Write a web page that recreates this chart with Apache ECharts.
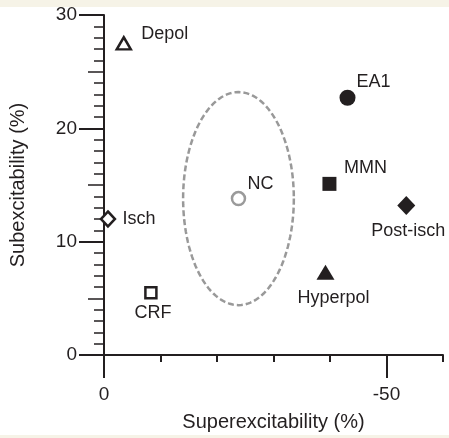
<!DOCTYPE html>
<html>
<head>
<meta charset="utf-8">
<script src="https://cdn.jsdelivr.net/npm/echarts@6/dist/echarts.min.js"></script>
<style>
  html, body { margin: 0; padding: 0; background: #fff; }
  #chart { width: 449px; height: 438px; }
</style>
</head>
<body>
<div id="chart"></div>
<script>
// conditions and their (superexcitability, subexcitability) in %
const names = ["Depol", "EA1", "MMN", "Post-isch", "Hyperpol", "NC", "Isch", "CRF"];
const superexcitability = [-3.5, -43.1, -39.9, -53.5, -39.2, -23.8, -0.7, -8.3];
const subexcitability = [27.5, 22.7, 15.1, 13.2, 7.3, 13.8, 12.0, 5.5];
// normal range round NC: centre x, centre y, half width, half height
const ncRange = [-23.8, 13.8, 9.8, 9.4];
const xLabelValues = [0, -50];

const ink = "#231f20";
const font = "Liberation Sans, Arial, sans-serif";

// marker look + label offset from marker centre
const markerStyle = {
  "Depol":     { symbol: "triangle", size: [14, 12], fill: "#fff", stroke: ink, bw: 2.5, label: [41, -9] },
  "EA1":       { symbol: "circle",   size: 16, fill: ink, stroke: ink, bw: 0, label: [26, -16] },
  "MMN":       { symbol: "rect",     size: 14, fill: ink, stroke: ink, bw: 0, label: [36, -16] },
  "Post-isch": { symbol: "diamond",  size: [18, 19], fill: ink, stroke: ink, bw: 0, label: [2, 26] },
  "Hyperpol":  { symbol: "triangle", size: [18, 15], fill: ink, stroke: ink, bw: 0, label: [8, 26] },
  "NC":        { symbol: "circle",   size: 13, fill: "#fff", stroke: "#9a9a9a", bw: 2.5, label: [22, -15] },
  "Isch":      { symbol: "diamond",  size: [14, 15], fill: "#fff", stroke: ink, bw: 2.5, label: [31, 0] },
  "CRF":       { symbol: "rect",     size: 11, fill: "#fff", stroke: ink, bw: 2.5, label: [2, 20] },
};

const points = names.map((name, i) => {
  const s = markerStyle[name];
  return {
    name,
    value: [superexcitability[i], subexcitability[i]],
    symbol: s.symbol,
    symbolSize: s.size,
    itemStyle: { color: s.fill, borderColor: s.stroke, borderWidth: s.bw, opacity: 1 },
    label: {
      show: true,
      position: "inside",
      offset: s.label,
      formatter: name,
      color: ink,
      fontSize: 18,
      fontFamily: font,
    },
  };
});

const chart = echarts.init(document.getElementById("chart"));

const option = {
  animation: false,
  backgroundColor: "#fff",
  graphic: [
    { type: "rect", left: 0, top: 0, shape: { width: 449, height: 7 }, style: { fill: "#f6f3e7" }, silent: true },
    { type: "rect", left: 0, top: 435, shape: { width: 449, height: 3 }, style: { fill: "#f6f3e7" }, silent: true },
  ],
  grid: { left: 103, right: 6, top: 15, bottom: 83, containLabel: false },
  xAxis: [
    {
      type: "value", min: -60, max: 0, interval: 10, inverse: true, position: "bottom",
      axisLine: { show: true, onZero: false, lineStyle: { color: ink, width: 2 } },
      axisTick: { show: true, length: 7, lineStyle: { color: ink, width: 2 } },
      axisLabel: { show: false },
      splitLine: { show: false },
    },
    {
      type: "value", min: -60, max: 0, interval: 10, inverse: true, position: "bottom",
      axisLine: { show: false },
      axisTick: { show: true, length: 23, customValues: xLabelValues, lineStyle: { color: ink, width: 2 } },
      axisLabel: { show: true, customValues: xLabelValues, margin: 30, fontSize: 19, color: ink, fontFamily: font },
      splitLine: { show: false },
      name: "Superexcitability (%)",
      nameLocation: "middle",
      nameGap: 57,
      nameTextStyle: { fontSize: 20, color: ink, fontFamily: font },
    },
  ],
  yAxis: [
    {
      type: "value", min: 0, max: 30, interval: 10, position: "left",
      axisLine: { show: true, onZero: false, lineStyle: { color: ink, width: 2 } },
      axisTick: { show: true, length: 25, lineStyle: { color: ink, width: 2 } },
      minorTick: { show: true, splitNumber: 10, length: 10, lineStyle: { color: ink, width: 1.5 } },
      axisLabel: { margin: 27, fontSize: 19, color: ink, fontFamily: font },
      splitLine: { show: false },
      minorSplitLine: { show: false },
      name: "Subexcitability (%)",
      nameLocation: "middle",
      nameGap: 76,
      nameTextStyle: { fontSize: 20, color: ink, fontFamily: font },
    },
    {
      type: "value", min: 0, max: 30, interval: 5, position: "left",
      axisLine: { show: false },
      axisTick: { show: true, length: 16, lineStyle: { color: ink, width: 1.5 } },
      axisLabel: { show: false },
      splitLine: { show: false },
    },
  ],
  series: [
    {
      type: "custom",
      xAxisIndex: 0,
      yAxisIndex: 0,
      silent: true,
      clip: false,
      z: 1,
      data: [ncRange],
      renderItem: (params, api) => {
        const c = api.coord([api.value(0), api.value(1)]);
        const s = api.size([api.value(2), api.value(3)]);
        const pts = [];
        for (let i = 0; i < 120; i++) {
          const t = (i / 120) * Math.PI * 2;
          pts.push([c[0] + Math.abs(s[0]) * Math.cos(t), c[1] + Math.abs(s[1]) * Math.sin(t)]);
        }
        return {
          type: "polygon",
          shape: { points: pts },
          style: { fill: "none", stroke: "#999", lineWidth: 2.5, lineDash: [6, 3] },
        };
      },
    },
    {
      type: "scatter",
      xAxisIndex: 0,
      yAxisIndex: 0,
      z: 3,
      data: points,
      emphasis: { disabled: true },
    },
  ],
};

chart.setOption(option);
</script>
</body>
</html>
